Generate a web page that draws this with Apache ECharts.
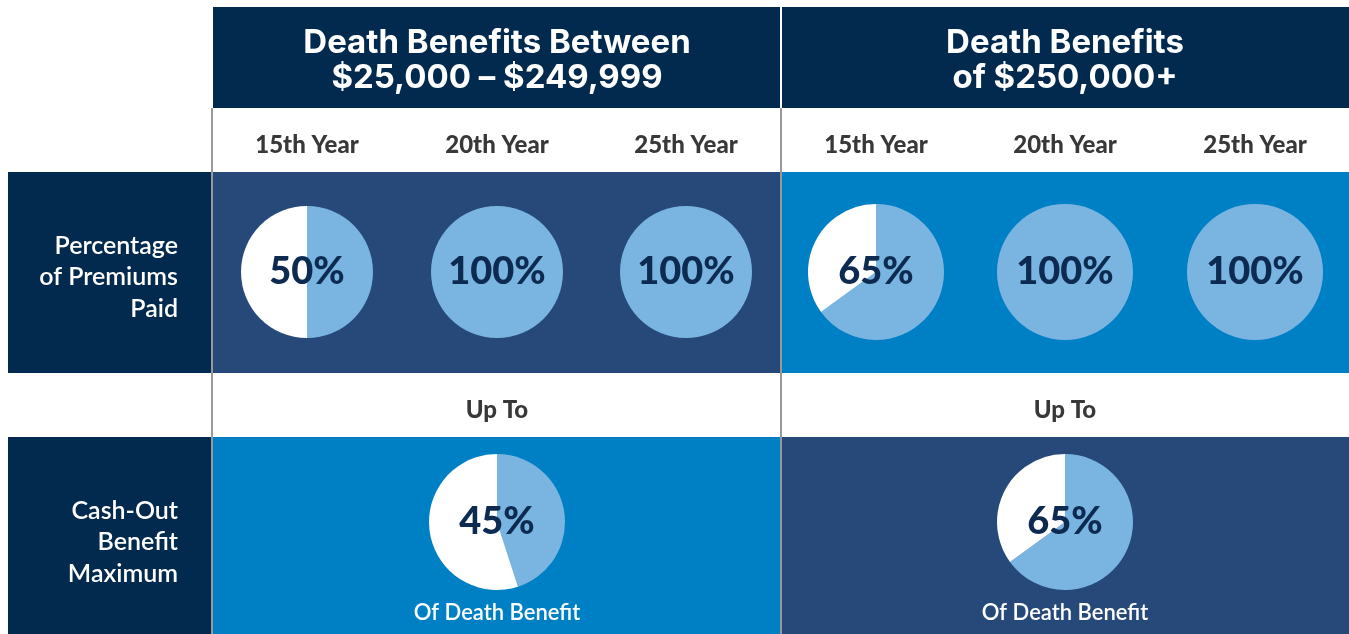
<!DOCTYPE html>
<html>
<head>
<meta charset="utf-8">
<script src="https://cdn.jsdelivr.net/npm/echarts@6/dist/echarts.min.js"></script>
<style>
html,body{margin:0;padding:0;background:#fff;}
#chart{width:1349px;height:634px;}
</style>
</head>
<body>
<div id="chart"></div>
<script>
// ---- data ----
var groupTitles = [['Death Benefits Between', '$25,000 \u2013 $249,999'], ['Death Benefits', 'of $250,000+']];
var years = ['15th Year', '20th Year', '25th Year'];
var rowLabels = [['Percentage', 'of Premiums', 'Paid'], ['Cash-Out', 'Benefit', 'Maximum']];
var premiumsPaid = [[50, 100, 100], [65, 100, 100]];
var cashOutMax = [45, 65];
var upToLabel = 'Up To';
var ofDeathLabel = 'Of Death Benefit';

// ---- styles ----
var NAVY = '#022a4e', MID = '#26497a', BLUE = '#0080c4', LIGHT = '#7ab5e2', PCT = '#0d2b50';
var chart = echarts.init(document.getElementById('chart'));

var groupX = [[213, 780], [782, 1349]];
var colCenters = [[307, 497, 686], [876, 1065, 1255]];
var groupCenter = [497, 1065];
var row1 = [172, 373], row2 = [437, 634];
var row1Bg = [MID, BLUE], row2Bg = [BLUE, MID];

var g = [];
g.push({type:'line', shape:{x1:212, y1:108, x2:212, y2:634}, style:{stroke:'#777', lineWidth:1.5}, z:0});
g.push({type:'line', shape:{x1:781, y1:108, x2:781, y2:634}, style:{stroke:'#777', lineWidth:1.5}, z:0});
g.push({type:'rect', shape:{x:8, y:row1[0], width:203, height:row1[1]-row1[0]}, style:{fill:NAVY}, z:1});
g.push({type:'rect', shape:{x:8, y:row2[0], width:203, height:row2[1]-row2[0]}, style:{fill:NAVY}, z:1});
var HFONT = '700 33px Inter, "Open Sans", sans-serif';
var YFONT = '900 24px Lato, sans-serif';
[0,1].forEach(function(gi){
  var x0 = groupX[gi][0], w = groupX[gi][1]-groupX[gi][0];
  g.push({type:'rect', shape:{x:x0, y:7, width:w, height:101}, style:{fill:NAVY}, z:1});
  g.push({type:'rect', shape:{x:x0, y:row1[0], width:w, height:row1[1]-row1[0]}, style:{fill:row1Bg[gi]}, z:1});
  g.push({type:'rect', shape:{x:x0, y:row2[0], width:w, height:row2[1]-row2[0]}, style:{fill:row2Bg[gi]}, z:1});
  g.push({type:'text', x:groupCenter[gi], y:43, style:{text:groupTitles[gi][0], fill:'#fff', font:HFONT, align:'center', verticalAlign:'middle'}, z:2});
  g.push({type:'text', x:groupCenter[gi], y:78, style:{text:groupTitles[gi][1], fill:'#fff', font:HFONT, align:'center', verticalAlign:'middle'}, z:2});
  years.forEach(function(y, yi){
    g.push({type:'text', x:colCenters[gi][yi], y:145, style:{text:y, fill:'#383838', font:YFONT, align:'center', verticalAlign:'middle'}, z:2});
  });
  g.push({type:'text', x:groupCenter[gi], y:410, style:{text:upToLabel, fill:'#383838', font:YFONT, align:'center', verticalAlign:'middle'}, z:2});
  g.push({type:'text', x:groupCenter[gi], y:613, style:{text:ofDeathLabel, fill:'#fff', font:'600 22px Lato, sans-serif', align:'center', verticalAlign:'middle'}, z:2});
});
[[246,277,309],[511,542,574]].forEach(function(ys, ri){
  ys.forEach(function(yy, li){
    g.push({type:'text', x:178, y:yy, style:{text:rowLabels[ri][li], fill:'#fff', font:'600 25px Lato, sans-serif', align:'right', verticalAlign:'middle'}, z:2});
  });
});

function pie(center, r, v) {
  return {
    type:'pie', center:center, radius:[0, r], startAngle:90, clockwise:true,
    silent:true, animation:false, stillShowZeroSum:true, minAngle:0,
    labelLine:{show:false}, z:5,
    data:[
      {value:v, itemStyle:{color:LIGHT}, label:{show:true, position:'center', formatter:v+'%', color:PCT, fontSize:38, fontWeight:900, fontFamily:'Lato, sans-serif'}},
      {value:100-v, itemStyle:{color:'#fff'}, label:{show:false}}
    ]
  };
}
var series = [];
[0,1].forEach(function(gi){
  premiumsPaid[gi].forEach(function(v, yi){
    series.push(pie([colCenters[gi][yi], 272], gi === 0 ? 66 : 68, v));
  });
  series.push(pie([groupCenter[gi], 522], 68, cashOutMax[gi]));
});

chart.setOption({
  animation:false,
  backgroundColor:'#fff',
  graphic:{elements:g},
  series:series
});
</script>
</body>
</html>
